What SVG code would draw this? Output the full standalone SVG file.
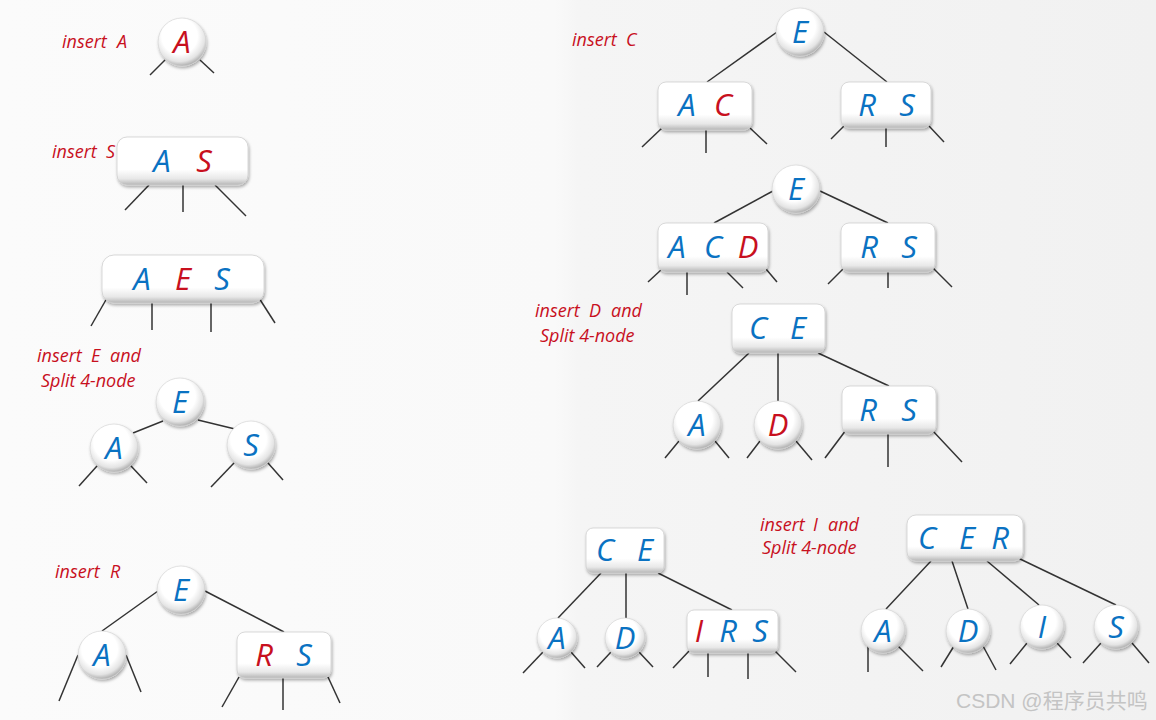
<svg xmlns="http://www.w3.org/2000/svg" width="1156" height="720" viewBox="0 0 1156 720">
<defs>
<linearGradient id="bg" x1="0" y1="0" x2="1" y2="0">
<stop offset="0" stop-color="#fbfbfb"/>
<stop offset="0.48" stop-color="#f9f9f9"/>
<stop offset="0.5" stop-color="#f5f5f5"/>
<stop offset="1" stop-color="#f1f1f1"/>
</linearGradient>
<linearGradient id="box" x1="0" y1="0" x2="0" y2="1">
<stop offset="0" stop-color="#ffffff"/>
<stop offset="0.68" stop-color="#ffffff"/>
<stop offset="0.87" stop-color="#e8e8e8"/>
<stop offset="1" stop-color="#b5b5b5"/>
</linearGradient>
<radialGradient id="ball" cx="0.45" cy="0.38" r="0.62">
<stop offset="0" stop-color="#ffffff"/>
<stop offset="0.6" stop-color="#ffffff"/>
<stop offset="0.85" stop-color="#e4e4e4"/>
<stop offset="1" stop-color="#b0b0b0"/>
</radialGradient>
<filter id="sh" x="-20%" y="-20%" width="140%" height="150%">
<feDropShadow dx="1" dy="2" stdDeviation="1.6" flood-color="#000" flood-opacity="0.32"/>
</filter>
</defs>
<style>
.lbl{font-family:"Open Sans","Noto Sans",sans-serif;font-style:italic;font-size:18px;fill:#c8101e}
.k{font-family:"Open Sans","Noto Sans",sans-serif;font-style:italic;font-size:31px;text-anchor:middle}
.b{fill:#0a72c2}
.r{fill:#c8101e}
.box{fill:url(#box);stroke:#cfcfcf;stroke-width:0.8;filter:url(#sh)}
.ball{fill:url(#ball);stroke:#d0d0d0;stroke-width:0.6;filter:url(#sh)}
#edges line{stroke:#333;stroke-width:1.5}
.wm{font-family:"Liberation Sans","Noto Sans CJK SC",sans-serif;font-size:21px;fill:#c4c4c4}
</style>
<rect width="1156" height="720" fill="url(#bg)"/>

<g id="labels">
<text class="lbl"><tspan x="62" y="48">insert</tspan><tspan x="117">A</tspan></text>
<text class="lbl"><tspan x="52" y="158">insert</tspan><tspan x="106">S</tspan></text>
<text class="lbl"><tspan x="37" y="362">insert</tspan><tspan x="91">E</tspan><tspan x="110">and</tspan><tspan x="41" y="387">Split 4-node</tspan></text>
<text class="lbl"><tspan x="55" y="578">insert</tspan><tspan x="110">R</tspan></text>
<text class="lbl"><tspan x="572" y="46">insert</tspan><tspan x="626">C</tspan></text>
<text class="lbl"><tspan x="535" y="317">insert</tspan><tspan x="589">D</tspan><tspan x="611">and</tspan><tspan x="540" y="342">Split 4-node</tspan></text>
<text class="lbl"><tspan x="760" y="531">insert</tspan><tspan x="813">I</tspan><tspan x="828">and</tspan><tspan x="762" y="554">Split 4-node</tspan></text>
</g>

<g id="edges">
<line x1="165" y1="60" x2="150" y2="75"/><line x1="200" y1="60" x2="214" y2="73"/>
<line x1="149" y1="185" x2="125" y2="210"/><line x1="183" y1="185" x2="183" y2="212"/><line x1="215" y1="185" x2="246" y2="216"/>
<line x1="107" y1="298" x2="91" y2="326"/><line x1="152" y1="303" x2="152" y2="330"/><line x1="211" y1="303" x2="211" y2="332"/><line x1="259" y1="298" x2="275" y2="323"/>
<line x1="163" y1="421" x2="133" y2="433"/><line x1="198" y1="420" x2="235" y2="429"/>
<line x1="97" y1="466" x2="79" y2="486"/><line x1="131" y1="466" x2="147" y2="483"/>
<line x1="234" y1="463" x2="211" y2="487"/><line x1="268" y1="463" x2="283" y2="480"/>
<line x1="158" y1="591" x2="102" y2="631"/><line x1="205" y1="591" x2="284" y2="632"/>
<line x1="78" y1="655" x2="59" y2="701"/><line x1="126" y1="655" x2="141" y2="692"/>
<line x1="239" y1="677" x2="222" y2="707"/><line x1="283" y1="678" x2="283" y2="710"/><line x1="328" y1="677" x2="340" y2="703"/>
<line x1="777" y1="32" x2="707" y2="82"/><line x1="824" y1="32" x2="887" y2="82"/>
<line x1="662" y1="128" x2="642" y2="147"/><line x1="706" y1="130" x2="706" y2="153"/><line x1="750" y1="128" x2="767" y2="144"/>
<line x1="844" y1="126" x2="831" y2="139"/><line x1="886" y1="128" x2="886" y2="147"/><line x1="929" y1="126" x2="944" y2="142"/>
<line x1="773" y1="191" x2="714" y2="223"/><line x1="820" y1="191" x2="888" y2="223"/>
<line x1="662" y1="269" x2="648" y2="282"/><line x1="687" y1="272" x2="687" y2="295"/><line x1="727" y1="272" x2="743" y2="288"/><line x1="766" y1="269" x2="777" y2="282"/>
<line x1="844" y1="268" x2="828" y2="284"/><line x1="888" y1="272" x2="888" y2="288"/><line x1="933" y1="268" x2="952" y2="287"/>
<line x1="749" y1="353" x2="698" y2="401"/><line x1="778" y1="353" x2="778" y2="401"/><line x1="818" y1="353" x2="889" y2="386"/>
<line x1="679" y1="441" x2="665" y2="458"/><line x1="715" y1="441" x2="729" y2="458"/>
<line x1="760" y1="441" x2="747" y2="458"/><line x1="796" y1="441" x2="812" y2="460"/>
<line x1="846" y1="430" x2="825" y2="458"/><line x1="888" y1="434" x2="888" y2="467"/><line x1="932" y1="430" x2="962" y2="462"/>
<line x1="601" y1="573" x2="558" y2="618"/><line x1="626" y1="573" x2="626" y2="618"/><line x1="658" y1="573" x2="732" y2="610"/>
<line x1="543" y1="652" x2="523" y2="673"/><line x1="571" y1="652" x2="585" y2="668"/>
<line x1="611" y1="652" x2="597" y2="667"/><line x1="639" y1="652" x2="653" y2="667"/>
<line x1="690" y1="650" x2="673" y2="668"/><line x1="708" y1="653" x2="708" y2="677"/><line x1="748" y1="653" x2="748" y2="679"/><line x1="774" y1="650" x2="796" y2="672"/>
<line x1="931" y1="561" x2="886" y2="609"/><line x1="952" y1="561" x2="968" y2="609"/><line x1="987" y1="561" x2="1039" y2="605"/><line x1="1018" y1="558" x2="1116" y2="605"/>
<line x1="868" y1="640" x2="868" y2="672"/><line x1="898" y1="646" x2="923" y2="671"/>
<line x1="954" y1="646" x2="941" y2="667"/><line x1="983" y1="646" x2="996" y2="670"/>
<line x1="1027" y1="643" x2="1010" y2="664"/><line x1="1057" y1="643" x2="1071" y2="658"/>
<line x1="1101" y1="643" x2="1083" y2="663"/><line x1="1132" y1="643" x2="1149" y2="663"/>
</g>

<g id="t1-A"><circle class="ball" cx="182" cy="42" r="24"/><text class="k r" x="182" y="53">A</text></g>

<g id="t2-AS"><rect class="box" x="117" y="137" width="131" height="48" rx="10"/><text class="k b" x="162" y="172">A</text><text class="k r" x="204" y="172">S</text></g>

<g id="t3-AES"><rect class="box" x="102" y="255" width="162" height="48" rx="12"/><text class="k b" x="142" y="290">A</text><text class="k r" x="183" y="290">E</text><text class="k b" x="222" y="290">S</text></g>

<g id="t4-E"><circle class="ball" cx="180" cy="402" r="24"/><text class="k b" x="180" y="413">E</text></g>
<g id="t4-A"><circle class="ball" cx="114" cy="448" r="24"/><text class="k b" x="114" y="459">A</text></g>
<g id="t4-S"><circle class="ball" cx="251" cy="445" r="24"/><text class="k b" x="251" y="456">S</text></g>

<g id="t5-E"><circle class="ball" cx="181" cy="590" r="24"/><text class="k b" x="181" y="601">E</text></g>
<g id="t5-A"><circle class="ball" cx="102" cy="655" r="24"/><text class="k b" x="102" y="666">A</text></g>
<g id="t5-RS"><rect class="box" x="237" y="632" width="94" height="46" rx="8"/><text class="k r" x="264" y="666">R</text><text class="k b" x="304" y="666">S</text></g>

<g id="t6-E"><circle class="ball" cx="800" cy="32" r="24"/><text class="k b" x="800" y="43">E</text></g>
<g id="t6-AC"><rect class="box" x="658" y="82" width="94" height="48" rx="8"/><text class="k b" x="687" y="116">A</text><text class="k r" x="723" y="116">C</text></g>
<g id="t6-RS"><rect class="box" x="841" y="82" width="90" height="46" rx="8"/><text class="k b" x="867" y="116">R</text><text class="k b" x="907" y="116">S</text></g>

<g id="t7-E"><circle class="ball" cx="796" cy="189" r="24"/><text class="k b" x="796" y="200">E</text></g>
<g id="t7-ACD"><rect class="box" x="658" y="223" width="110" height="49" rx="8"/><text class="k b" x="677" y="258">A</text><text class="k b" x="713" y="258">C</text><text class="k r" x="748" y="258">D</text></g>
<g id="t7-RS"><rect class="box" x="841" y="223" width="94" height="49" rx="8"/><text class="k b" x="869" y="258">R</text><text class="k b" x="909" y="258">S</text></g>

<g id="t8-CE"><rect class="box" x="732" y="304" width="93" height="49" rx="8"/><text class="k b" x="758" y="339">C</text><text class="k b" x="798" y="339">E</text></g>
<g id="t8-A"><circle class="ball" cx="697" cy="425" r="24"/><text class="k b" x="697" y="436">A</text></g>
<g id="t8-D"><circle class="ball" cx="778" cy="425" r="24"/><text class="k r" x="778" y="436">D</text></g>
<g id="t8-RS"><rect class="box" x="842" y="386" width="94" height="48" rx="8"/><text class="k b" x="868" y="421">R</text><text class="k b" x="909" y="421">S</text></g>

<g id="t9-CE"><rect class="box" x="586" y="528" width="78" height="45" rx="7"/><text class="k b" x="605" y="561">C</text><text class="k b" x="645" y="561">E</text></g>
<g id="t9-A"><circle class="ball" cx="557" cy="638" r="20"/><text class="k b" x="557" y="649">A</text></g>
<g id="t9-D"><circle class="ball" cx="625" cy="638" r="20"/><text class="k b" x="625" y="649">D</text></g>
<g id="t9-IRS"><rect class="box" x="687" y="610" width="91" height="43" rx="7"/><text class="k r" x="699" y="642">I</text><text class="k b" x="728" y="642">R</text><text class="k b" x="760" y="642">S</text></g>

<g id="t10-CER"><rect class="box" x="907" y="515" width="116" height="46" rx="9"/><text class="k b" x="927" y="549">C</text><text class="k b" x="967" y="549">E</text><text class="k b" x="1000" y="549">R</text></g>
<g id="t10-A"><circle class="ball" cx="883" cy="631" r="22"/><text class="k b" x="883" y="642">A</text></g>
<g id="t10-D"><circle class="ball" cx="968" cy="631" r="22"/><text class="k b" x="968" y="642">D</text></g>
<g id="t10-I"><circle class="ball" cx="1042" cy="627" r="22"/><text class="k b" x="1042" y="638">I</text></g>
<g id="t10-S"><circle class="ball" cx="1116" cy="627" r="22"/><text class="k b" x="1116" y="638">S</text></g>

<text class="wm" x="956" y="708">CSDN @程序员共鸣</text>
</svg>
